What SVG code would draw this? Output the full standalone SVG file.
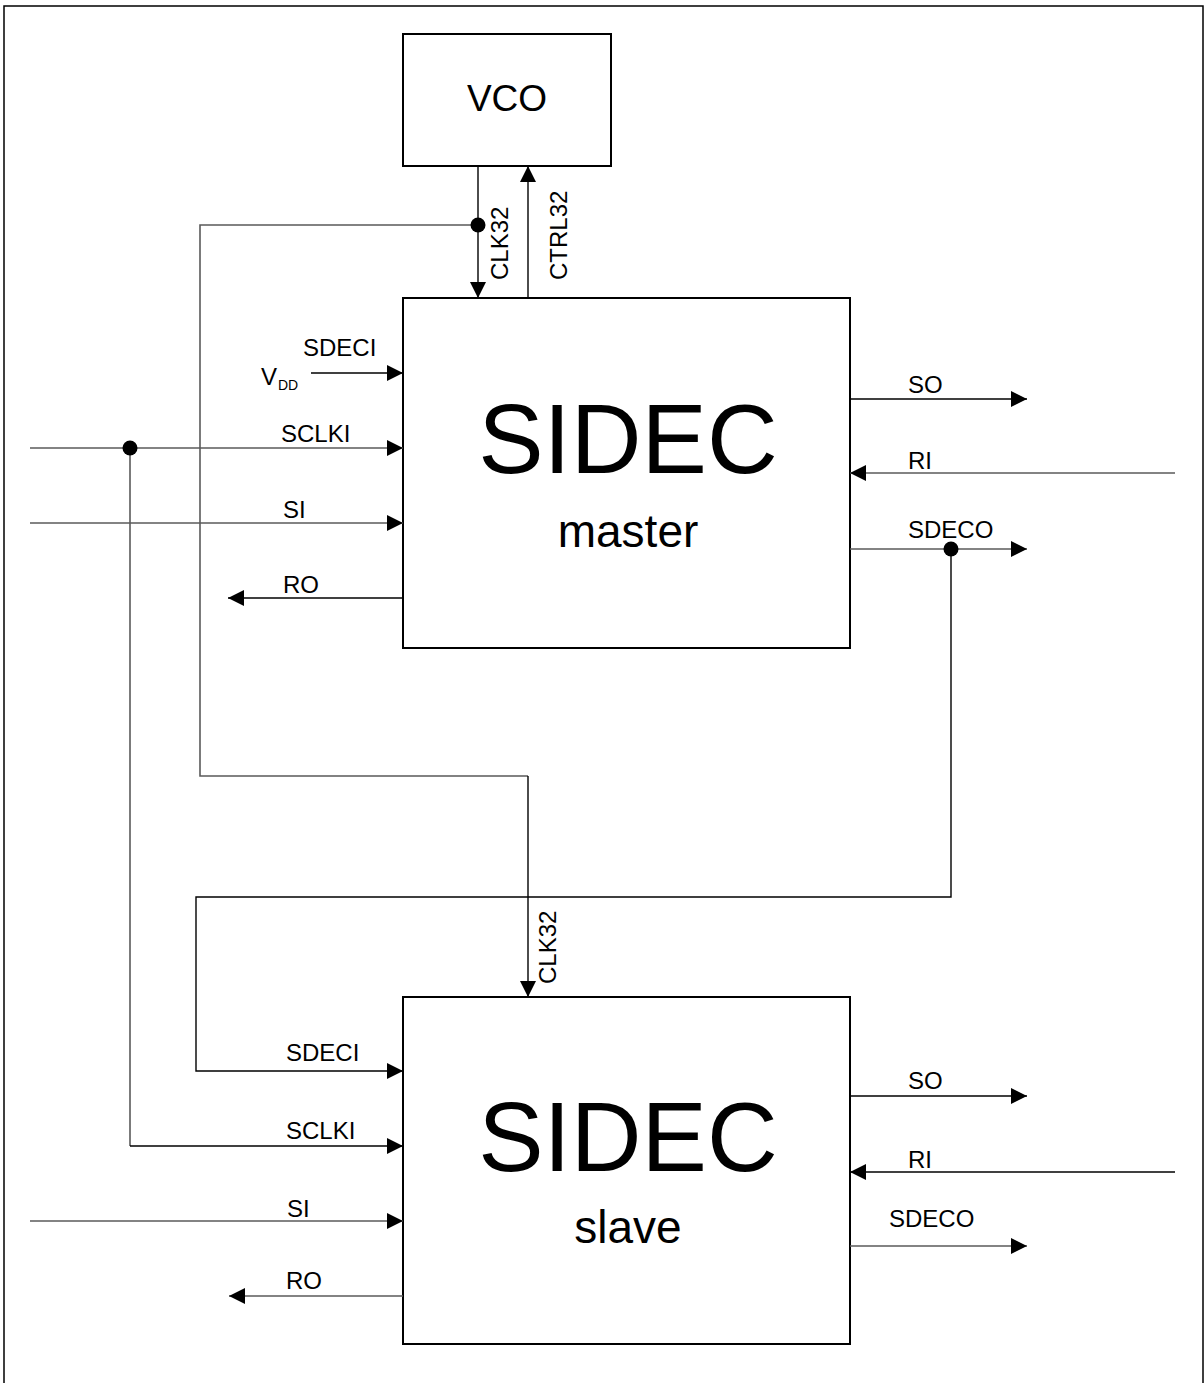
<svg xmlns="http://www.w3.org/2000/svg" width="1204" height="1383" viewBox="0 0 1204 1383">
<style>
text{font-family:"Liberation Sans",Arial,sans-serif;fill:#000}
.lbl{font-size:24px}
.box{fill:#fff;stroke:#000;stroke-width:2}
.w{fill:none;stroke:#000;stroke-width:1.4}
.g{fill:none;stroke:#5a5a5a;stroke-width:1.6}
</style>
<defs>
<marker id="ah" viewBox="0 0 16 16" refX="16" refY="8" markerWidth="16" markerHeight="16" markerUnits="userSpaceOnUse" orient="auto">
<path d="M0,0 L16,8 L0,16 Z" fill="#000"/>
</marker>
</defs>
<rect width="1204" height="1383" fill="#fff"/>
<path d="M4,1383 V6 H1203 V1383" fill="none" stroke="#000" stroke-width="1.5"/>

<g id="vco">
<rect class="box" x="403" y="34" width="208" height="132"/>
<text x="507" y="111" font-size="37" text-anchor="middle">VCO</text>
</g>
<g id="master">
<rect class="box" x="403" y="298" width="447" height="350"/>
<text x="628" y="473" font-size="98" text-anchor="middle">SIDEC</text>
<text x="628" y="547" font-size="46" text-anchor="middle">master</text>
</g>
<g id="slave">
<rect class="box" x="403" y="997" width="447" height="347"/>
<text x="628" y="1171" font-size="98" text-anchor="middle">SIDEC</text>
<text x="628" y="1243" font-size="46" text-anchor="middle">slave</text>
</g>

<g id="connectors">
<path class="w" d="M478,166 V298" marker-end="url(#ah)"/>
<path class="w" d="M528,298 V166" marker-end="url(#ah)"/>
<path class="g" d="M478,225 H200 V776 H528"/>
<path class="w" d="M528,776 V997" marker-end="url(#ah)"/>
<path class="w" d="M311,373 H403" marker-end="url(#ah)"/>
<path class="g" d="M30,448 H403" marker-end="url(#ah)"/>
<path class="g" d="M30,523 H403" marker-end="url(#ah)"/>
<path class="w" d="M403,598 H228" marker-end="url(#ah)"/>
<path class="w" d="M850,399 H1027" marker-end="url(#ah)"/>
<path class="g" d="M1175,473 H850" marker-end="url(#ah)"/>
<path class="g" d="M850,549 H1027" marker-end="url(#ah)"/>
<path class="w" d="M951,549 V897 H196 V1071 H403" marker-end="url(#ah)"/>
<path class="g" d="M130,448 V1146"/>
<path class="w" d="M130,1146 H403" marker-end="url(#ah)"/>
<path class="g" d="M30,1221 H403" marker-end="url(#ah)"/>
<path class="g" d="M403,1296 H229" marker-end="url(#ah)"/>
<path class="w" d="M850,1096 H1027" marker-end="url(#ah)"/>
<path class="w" d="M1175,1172 H850" marker-end="url(#ah)"/>
<path class="g" d="M850,1246 H1027" marker-end="url(#ah)"/>
<circle cx="478" cy="225" r="7.5" fill="#000"/>
<circle cx="130" cy="448" r="7.5" fill="#000"/>
<circle cx="951" cy="549" r="7.5" fill="#000"/>
</g>

<g id="labels">
<text class="lbl" transform="translate(508,280) rotate(-90)">CLK32</text>
<text class="lbl" transform="translate(567,280) rotate(-90)">CTRL32</text>
<text class="lbl" transform="translate(556,984) rotate(-90)">CLK32</text>
<text class="lbl" x="303" y="356">SDECI</text>
<text x="261" y="385" font-size="24">V</text>
<text x="278" y="390" font-size="14">DD</text>
<text class="lbl" x="281" y="442">SCLKI</text>
<text class="lbl" x="283" y="518">SI</text>
<text class="lbl" x="283" y="593">RO</text>
<text class="lbl" x="908" y="393">SO</text>
<text class="lbl" x="908" y="469">RI</text>
<text class="lbl" x="908" y="538">SDECO</text>
<text class="lbl" x="286" y="1061">SDECI</text>
<text class="lbl" x="286" y="1139">SCLKI</text>
<text class="lbl" x="287" y="1217">SI</text>
<text class="lbl" x="286" y="1289">RO</text>
<text class="lbl" x="908" y="1089">SO</text>
<text class="lbl" x="908" y="1168">RI</text>
<text class="lbl" x="889" y="1227">SDECO</text>
</g>
</svg>
